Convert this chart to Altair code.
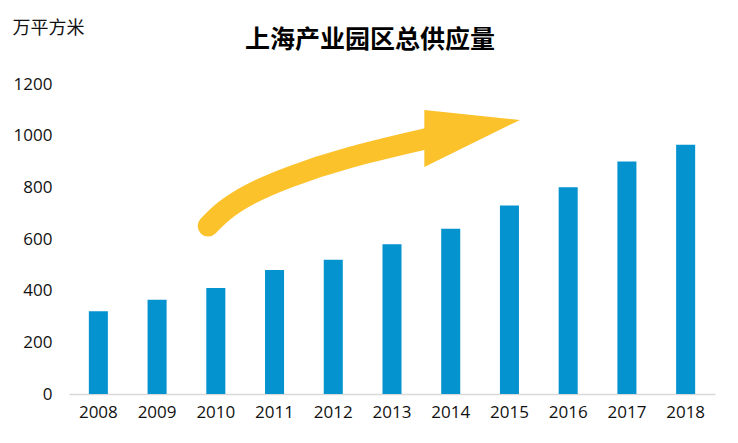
import altair as alt
import pandas as pd

years = ["2008", "2009", "2010", "2011", "2012", "2013", "2014", "2015", "2016", "2017", "2018"]
supply = [320, 365, 410, 480, 520, 580, 640, 730, 800, 900, 965]

# decorative trend arrow, in data units (x = year index, y = value)
arrow_x = [1.87, 2.15, 2.6, 3.26, 4.29, 5.56, 5.75]
arrow_y = [650, 710, 775, 840, 916, 987, 1000]
head_x = [5.55, 7.18]
head_top = [1099, 1061]
head_bottom = [879, 1061]

title_text = ["上海产业园区总供应量"]

bars_df = pd.DataFrame({"year": years, "value": supply})
arrow_df = pd.DataFrame({"i": arrow_x, "v": arrow_y})
head_df = pd.DataFrame({"i": head_x, "top": head_top, "bottom": head_bottom})
title_df = pd.DataFrame({"t": title_text})

YELLOW = "#FCC22C"
BLUE = "#0593CF"

yscale = alt.Scale(domain=[0, 1200], nice=False)
xq = alt.Scale(domain=[-0.5, 10.5], nice=False, zero=False)

bars = alt.Chart(bars_df).mark_bar(color=BLUE).encode(
    x=alt.X("year:O", sort=years,
            scale=alt.Scale(paddingInner=0.676, paddingOuter=0.338),
            axis=alt.Axis(title=None, labelAngle=0, ticks=False, domain=True,
                          domainColor="#D9D9D9", domainWidth=1.5,
                          labelFont="Open Sans", labelFontSize=17,
                          labelColor="#111111", labelPadding=10)),
    y=alt.Y("value:Q", scale=yscale,
            axis=alt.Axis(title="万平方米", titleAngle=0, titleAlign="left",
                          titleBaseline="middle", titleX=-57, titleY=-56,
                          titleFont="Noto Sans CJK SC", titleFontSize=18,
                          titleFontWeight="normal", titleColor="#111111",
                          values=[0, 200, 400, 600, 800, 1000, 1200], format="d",
                          domain=False, ticks=False, grid=False,
                          labelFont="Open Sans", labelFontSize=17,
                          labelColor="#111111", labelPadding=17)),
)

body = alt.Chart(arrow_df).mark_line(
    color=YELLOW, strokeWidth=21, strokeCap="round", interpolate="natural"
).encode(
    x=alt.X("i:Q", scale=xq, axis=None),
    y=alt.Y("v:Q", scale=yscale),
)

head = alt.Chart(head_df).mark_area(color=YELLOW, opacity=1).encode(
    x=alt.X("i:Q", scale=xq, axis=None),
    y=alt.Y("top:Q", scale=yscale),
    y2="bottom:Q",
)

title = alt.Chart(title_df).mark_text(
    font="Noto Sans CJK SC", fontSize=25, fontWeight="bold", color="#000000",
    align="center", baseline="middle",
).encode(
    text="t:N",
    x=alt.value(301),
    y=alt.value(-44),
)

chart = alt.layer(bars, body, head, title).resolve_scale(x="independent").properties(
    width=646,
    height=310,
    padding={"left": 61, "top": 76, "right": 15, "bottom": 40},
    autosize=alt.AutoSizeParams(type="none"),
).configure_view(stroke=None)

chart.save("out.html", embed_options={"renderer": "svg", "actions": False})
